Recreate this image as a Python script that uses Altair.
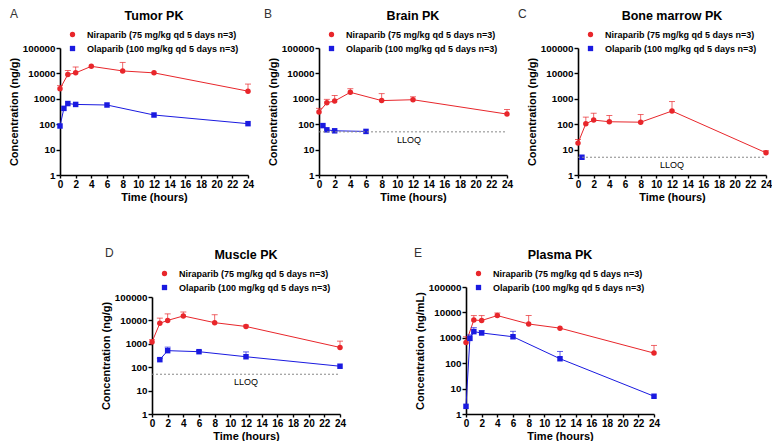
import altair as alt
import pandas as pd

NIR = "Niraparib (75 mg/kg qd 5 days n=3)"
OLA = "Olaparib (100 mg/kg qd 5 days n=3)"
RED = "#e8262b"
BLUE = "#1a1ae0"
FONT = "Liberation Sans"

# ---- data ----
tumor_nir_t = [0, 1, 2, 4, 8, 12, 24]
tumor_nir_c = [2500, 9000, 10500, 19000, 12500, 10500, 2000]
tumor_nir_hi = [3300, 13000, 18000, None, 27000, None, 3800]
tumor_ola_t = [0, 0.5, 1, 2, 6, 12, 24]
tumor_ola_c = [85, 420, 650, 600, 570, 230, 105]
tumor_ola_hi = [None, None, None, None, None, None, None]

brain_nir_t = [0, 1, 2, 4, 8, 12, 24]
brain_nir_c = [300, 700, 820, 1800, 850, 920, 250]
brain_nir_hi = [420, 950, 1350, 2500, 1600, 1200, 380]
brain_ola_t = [0.5, 1, 2, 6]
brain_ola_c = [88, 60, 55, 52]
brain_ola_hi = [None, None, None, None]

bone_nir_t = [0, 1, 2, 4, 8, 12, 24]
bone_nir_c = [18, 105, 145, 125, 120, 330, 7.5]
bone_nir_hi = [25, 190, 270, 220, 240, 780, 9]
bone_ola_t = [0.5]
bone_ola_c = [5]
bone_ola_hi = [None]

muscle_nir_t = [0, 1, 2, 4, 8, 12, 24]
muscle_nir_c = [1200, 7500, 10000, 15500, 8000, 5500, 700]
muscle_nir_hi = [1500, 12500, 19000, 23000, 17500, 6300, 1300]
muscle_ola_t = [1, 2, 6, 12, 24]
muscle_ola_c = [210, 510, 460, 280, 110]
muscle_ola_hi = [240, 720, 520, 450, None]

plasma_nir_t = [0, 1, 2, 4, 8, 12, 24]
plasma_nir_c = [650, 5000, 4800, 7500, 3500, 2400, 250]
plasma_nir_hi = [1100, 7500, 7500, 9500, 7500, None, 500]
plasma_ola_t = [0, 0.5, 1, 2, 6, 12, 24]
plasma_ola_c = [2, 950, 1750, 1550, 1100, 150, 5]
plasma_ola_hi = [None, 1300, 2500, 1900, 1800, 290, None]

x_ticks = list(range(0, 25, 2))
y_ticks = [1, 10, 100, 1000, 10000, 100000]

W = 188
H = 127


def make_df(nt, nc, nh, ot, oc, oh):
    rows = []
    for t, c, h in zip(nt, nc, nh):
        rows.append({"drug": NIR, "time": t, "conc": c, "hi": h})
    for t, c, h in zip(ot, oc, oh):
        rows.append({"drug": OLA, "time": t, "conc": c, "hi": h})
    return pd.DataFrame(rows)


def panel(df, title, letter, ytitle, lloq=None, lloq_x=12, letter_dx=-50, yrange=None):
    yscale = alt.Scale(type="log", domain=[1, 100000], nice=False)
    if yrange is not None:
        yscale = alt.Scale(type="log", domain=[1, 100000], nice=False, range=yrange)
    xscale = alt.Scale(domain=[0, 24], nice=False)
    xaxis = alt.Axis(values=x_ticks, title="Time (hours)", grid=False, tickCount=13,
                     labelFont=FONT, labelFontSize=10, labelFontWeight="bold",
                     labelColor="black", titleFont=FONT, titleFontSize=11,
                     titleFontWeight="bold", titleColor="black", domainColor="black",
                     domainWidth=1.6, tickColor="black", tickWidth=1.4, tickSize=3,
                     labelPadding=1, titlePadding=2, labelFlush=False, labelOverlap=False)
    yaxis = alt.Axis(values=y_ticks, format="d", title=ytitle, grid=False,
                     labelFont=FONT, labelFontSize=9.8, labelFontWeight="bold",
                     labelColor="black", titleFont=FONT, titleFontSize=11,
                     titleFontWeight="bold", titleColor="black", domainColor="black",
                     domainWidth=1.6, tickColor="black", tickWidth=1.4, tickSize=4,
                     labelPadding=1, titlePadding=3, labelOverlap=False)

    def X(f):
        return alt.X(f, scale=xscale, axis=xaxis, title="Time (hours)")

    def Y(f):
        return alt.Y(f, scale=yscale, axis=yaxis, title=ytitle)

    cscale = alt.Scale(domain=[NIR, OLA], range=[RED, BLUE])
    sscale = alt.Scale(domain=[NIR, OLA], range=["circle", "square"])
    leg = alt.Legend(orient="none", legendX=8, legendY=-18, title=None, labelFont=FONT,
                     labelFontSize=9, labelFontWeight="bold", labelColor="black",
                     symbolSize=28, symbolStrokeWidth=0, symbolOpacity=1, labelOffset=10,
                     rowPadding=4, padding=0)
    col = alt.Color("drug:N", scale=cscale, legend=leg)
    base = alt.Chart(df)
    line = base.mark_line(strokeWidth=1).encode(x=X("time:Q"), y=Y("conc:Q"), color=col,
                                                detail="drug:N")
    err = base.transform_filter("isValid(datum.hi)").mark_rule(strokeWidth=1, opacity=0.7).encode(
        x=X("time:Q"), y=Y("conc:Q"), y2="hi:Q", color=col)
    cap = base.transform_filter("isValid(datum.hi)").mark_tick(
        orient="horizontal", size=6, thickness=1, opacity=0.7).encode(
        x=X("time:Q"), y=Y("hi:Q"), color=col)
    pts = base.mark_point(filled=True, size=30, opacity=1).encode(
        x=X("time:Q"), y=Y("conc:Q"), color=col,
        shape=alt.Shape("drug:N", scale=sscale, legend=leg))
    layers = [line, err, cap, pts]
    if lloq is not None:
        ldf = pd.DataFrame({"y": [lloq], "x0": [0], "x1": [24], "lx": [lloq_x], "txt": ["LLOQ"]})
        lrule = alt.Chart(ldf).mark_rule(color="#888888", strokeDash=[2, 2], strokeWidth=1).encode(
            x=X("x0:Q"), x2="x1:Q", y=Y("y:Q"))
        ltext = alt.Chart(ldf).mark_text(font=FONT, fontSize=9, color="black", baseline="top", dy=4).encode(
            x=X("lx:Q"), y=Y("y:Q"), text="txt:N")
        layers = layers + [lrule, ltext]
    tdf = pd.DataFrame({"t": [letter], "title": [title]})
    lettxt = alt.Chart(tdf).mark_text(font=FONT, fontSize=12, color="#333333", align="left",
                                      baseline="middle").encode(
        x=alt.value(letter_dx), y=alt.value(-34), text="t:N")
    titletxt = alt.Chart(tdf).mark_text(font=FONT, fontSize=12.5, fontWeight="bold", color="black",
                                        align="center", baseline="middle").encode(
        x=alt.value(W / 2), y=alt.value(-32), text="title:N")
    layers += [lettxt, titletxt]
    return alt.layer(*layers).properties(width=W, height=H)


pA = panel(make_df(tumor_nir_t, tumor_nir_c, tumor_nir_hi, tumor_ola_t, tumor_ola_c, tumor_ola_hi),
           "Tumor PK", "A", "Concentration (ng/g)", letter_dx=-50)
pB = panel(make_df(brain_nir_t, brain_nir_c, brain_nir_hi, brain_ola_t, brain_ola_c, brain_ola_hi),
           "Brain PK", "B", "Concentration (ng/g)", lloq=50, lloq_x=11.5, letter_dx=-55)
pC = panel(make_df(bone_nir_t, bone_nir_c, bone_nir_hi, bone_ola_t, bone_ola_c, bone_ola_hi),
           "Bone marrow PK", "C", "Concentration (ng/g)", lloq=5, lloq_x=12, letter_dx=-60)
pD = panel(make_df(muscle_nir_t, muscle_nir_c, muscle_nir_hi, muscle_ola_t, muscle_ola_c, muscle_ola_hi),
           "Muscle PK", "D", "Concentration (ng/g)", lloq=50, lloq_x=12, letter_dx=-47,
           yrange=[H, 10])
pE = panel(make_df(plasma_nir_t, plasma_nir_c, plasma_nir_hi, plasma_ola_t, plasma_ola_c, plasma_ola_hi),
           "Plasma PK", "E", "Concentration (ng/mL)", letter_dx=-52)

spacer = alt.Chart(pd.DataFrame({"v": [0]})).mark_point(opacity=0).encode(
    x=alt.value(0), y=alt.value(0)).properties(width=1, height=1)

top = alt.hconcat(pA, pB, pC, spacing=71, bounds="flush").resolve_scale(
    color="independent", shape="independent").resolve_legend(color="independent", shape="independent")
bottom_inner = alt.hconcat(pD, pE, spacing=126, bounds="flush").resolve_scale(
    color="independent", shape="independent").resolve_legend(color="independent", shape="independent")
bottom = alt.hconcat(spacer, bottom_inner, spacing=37)

chart = alt.vconcat(top, bottom, spacing=45).properties(
    padding={"left": 0, "top": 0, "right": 0, "bottom": 0}
).configure_view(stroke=None)

chart.save("out.html", embed_options={"renderer": "svg", "actions": False})
